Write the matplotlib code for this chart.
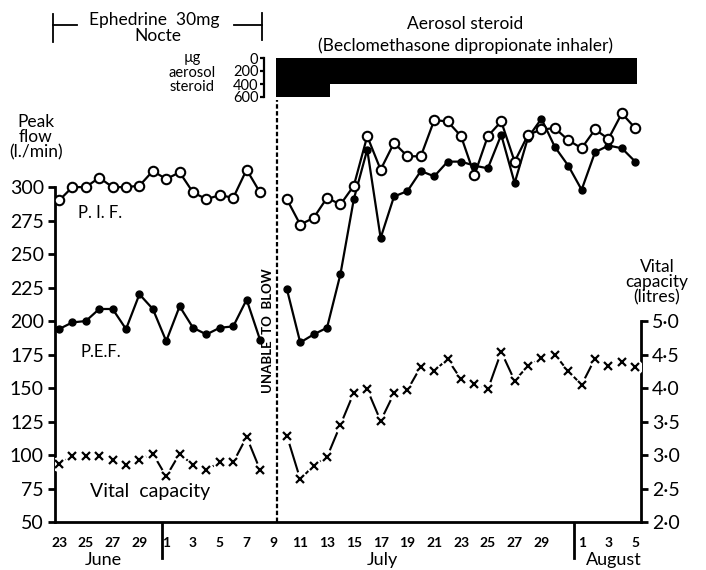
import matplotlib
matplotlib.use("Agg")
import matplotlib.pyplot as plt
import matplotlib.transforms as mtransforms
import numpy as np

plt.rcParams['font.family'] = ['Lato', 'DejaVu Sans']

# day 0 = 23 June; daily readings
days_pre = list(range(0, 16))     # 23 June - 8 July
days_post = list(range(17, 44))   # 10 July - 5 August

pif_pre = [290, 300, 300, 307, 300, 300, 301, 312, 306, 311, 296, 291, 294, 292, 313, 296]
pef_pre = [194, 199, 200, 209, 209, 194, 220, 209, 185, 211, 195, 190, 195, 196, 216, 186]
vc_pre = [2.87, 2.99, 2.99, 2.99, 2.93, 2.85, 2.93, 3.02, 2.68, 3.02, 2.85, 2.77, 2.90, 2.89, 3.27, 2.78]

pif_post = [291, 272, 277, 292, 287, 301, 338, 313, 333, 323, 323, 350, 349, 338, 309, 338,
            349, 319, 339, 343, 344, 335, 329, 343, 336, 355, 344]
pef_post = [224, 184, 190, 195, 235, 291, 328, 262, 293, 297, 312, 308, 319, 319, 316, 314,
            339, 303, 337, 351, 330, 316, 298, 326, 331, 329, 319]
vc_post = [3.29, 2.64, 2.84, 2.97, 3.45, 3.93, 3.98, 3.51, 3.92, 3.97, 4.32, 4.26, 4.43, 4.13,
           4.06, 3.98, 4.54, 4.11, 4.33, 4.45, 4.50, 4.25, 4.05, 4.44, 4.33, 4.39, 4.32]

tick_days = [0, 2, 4, 6, 8, 10, 12, 14, 16, 18, 20, 22, 24, 26, 28, 30, 32, 34, 36, 39, 41, 43]
tick_labels = ['23', '25', '27', '29', '1', '3', '5', '7', '9', '11', '13', '15', '17', '19',
               '21', '23', '25', '27', '29', '1', '3', '5']
months = ['June', 'July', 'August']
month_centres = [3.3, 24.1, 41.4]
month_breaks = [7.7, 38.4]
blow_day = 16.27

steroid_day = [16.2, 20.2, 43.1]
steroid_dose = [600, 400, 400]

W, H = 706, 570
fig = plt.figure(figsize=(W / 100, H / 100), dpi=100)


def fx(px):
    return px / W


def fy(py):
    return 1 - py / H


ax = fig.add_axes([fx(55), fy(522), fx(641) - fx(55), fy(100) - fy(522)])
ax.set_xlim(-0.3, 43.43)
ax.set_ylim(50, 365)

ax2 = ax.twinx()
ax2.set_ylim(2.0, 2.0 + (365 - 50) / 50.0)

lw = 1.6
# peak inspiratory flow (open circles)
for dd, vv in [(days_pre, pif_pre), (days_post, pif_post)]:
    ax.plot(dd, vv, color='black', lw=lw, marker='o', ms=6.8, mfc='white', mec='black', mew=1.5, zorder=4)
# peak expiratory flow (filled dots)
for dd, vv in [(days_pre, pef_pre), (days_post, pef_post)]:
    ax.plot(dd, vv, color='black', lw=lw, marker='o', ms=5, mfc='black', mec='black', zorder=3)
# vital capacity: crosses with broken joining lines
for dd, vv in [(days_pre, vc_pre), (days_post, vc_post)]:
    ax2.plot(dd, vv, color='black', lw=1.5, zorder=2)
    ax2.plot(dd, vv, ls='none', marker='o', ms=11, mfc='white', mec='none', zorder=3)
    ax2.plot(dd, vv, ls='none', marker='x', ms=5.5, mec='black', mew=1.6, zorder=4)

# spines
for a in (ax, ax2):
    a.spines['top'].set_visible(False)
ax.spines['right'].set_visible(False)
ax2.spines['left'].set_visible(False)
ax2.spines['bottom'].set_visible(False)
ax.spines['left'].set_bounds(50, 300)
ax.spines['left'].set_linewidth(2)
ax.spines['bottom'].set_linewidth(2)
ax2.spines['right'].set_bounds(2.0, 5.0)
ax2.spines['right'].set_linewidth(2)

ax.set_yticks([50, 75, 100, 125, 150, 175, 200, 225, 250, 275, 300])
ax.tick_params(axis='y', direction='out', length=5, width=2, labelsize=14, pad=3)
ax2.set_yticks([2.0, 2.5, 3.0, 3.5, 4.0, 4.5, 5.0])
ax2.set_yticklabels(['2·0', '2·5', '3·0', '3·5', '4·0', '4·5', '5·0'])
ax2.tick_params(axis='y', direction='out', length=5, width=2, labelsize=14, pad=3)

ax.set_xticks(tick_days)
ax.set_xticklabels(tick_labels, fontweight='bold')
ax.tick_params(axis='x', length=0, labelsize=10, pad=11)

trans = mtransforms.blended_transform_factory(ax.transData, ax.transAxes)
for m, xc in zip(months, month_centres):
    ax.text(xc, -0.09, m, transform=trans, ha='center', va='center', fontsize=13)
for xb in month_breaks:
    ax.plot([xb, xb], [-0.005, -0.085], transform=trans, color='black', lw=2, clip_on=False)

ax.plot([blow_day, blow_day], [50, 365], color='black', lw=1.6, ls=(0, (2, 1.1)), clip_on=False)
ax.text(15.6, 193, 'UNABLE  TO  BLOW', rotation=90, ha='center', va='center',
        fontsize=9.5, fontweight='bold')

ax.text(1.4, 281, 'P. I. F.', fontsize=12, va='center')
ax.text(1.6, 177, 'P.E.F.', fontsize=12, va='center')
ax.text(2.3, 73, 'Vital  capacity', fontsize=14, va='center')

fig.text(fx(36), fy(137), 'Peak\nflow\n(l./min)', ha='center', va='center', fontsize=12.5, linespacing=0.92)
fig.text(fx(657), fy(282), 'Vital\ncapacity\n(litres)', ha='center', va='center', fontsize=12.5, linespacing=0.92)

# header: ephedrine period
fig.text(fx(154), fy(20), 'Ephedrine  30mg', ha='center', va='center', fontsize=12.5)
fig.text(fx(158), fy(36), 'Nocte', ha='center', va='center', fontsize=12.5)
fig.add_artist(plt.Line2D([fx(53), fx(53)], [fy(14), fy(42)], color='black', lw=1.3))
fig.add_artist(plt.Line2D([fx(53), fx(77)], [fy(25), fy(25)], color='black', lw=1.3))
fig.add_artist(plt.Line2D([fx(262), fx(262)], [fy(13), fy(40)], color='black', lw=1.3))
fig.add_artist(plt.Line2D([fx(234), fx(262)], [fy(25), fy(25)], color='black', lw=1.3))

# header: aerosol steroid dose
fig.text(fx(465), fy(24), 'Aerosol steroid', ha='center', va='center', fontsize=12.5)
fig.text(fx(465), fy(46), '(Beclomethasone dipropionate inhaler)', ha='center', va='center', fontsize=12.5)

hx = fig.add_axes([fx(264), fy(97), fx(641) - fx(264), fy(58) - fy(97)])
hx.set_xlim((264 - 59) / 13.4, 43.43)
hx.set_ylim(600, 0)
hx.fill_between(steroid_day, 0, steroid_dose, step='post', color='black', lw=0)
for s in ['top', 'right', 'bottom']:
    hx.spines[s].set_visible(False)
hx.spines['left'].set_linewidth(1.6)
hx.set_xticks([])
hx.set_yticks([0, 200, 400, 600])
hx.tick_params(axis='y', direction='out', length=3, width=1.6, labelsize=10.5, pad=1)
fig.text(fx(192), fy(58), 'µg', ha='center', va='center', fontsize=10.5)
fig.text(fx(192), fy(72.5), 'aerosol', ha='center', va='center', fontsize=10.5)
fig.text(fx(192), fy(87), 'steroid', ha='center', va='center', fontsize=10.5)

fig.savefig('out.png', dpi=100)
